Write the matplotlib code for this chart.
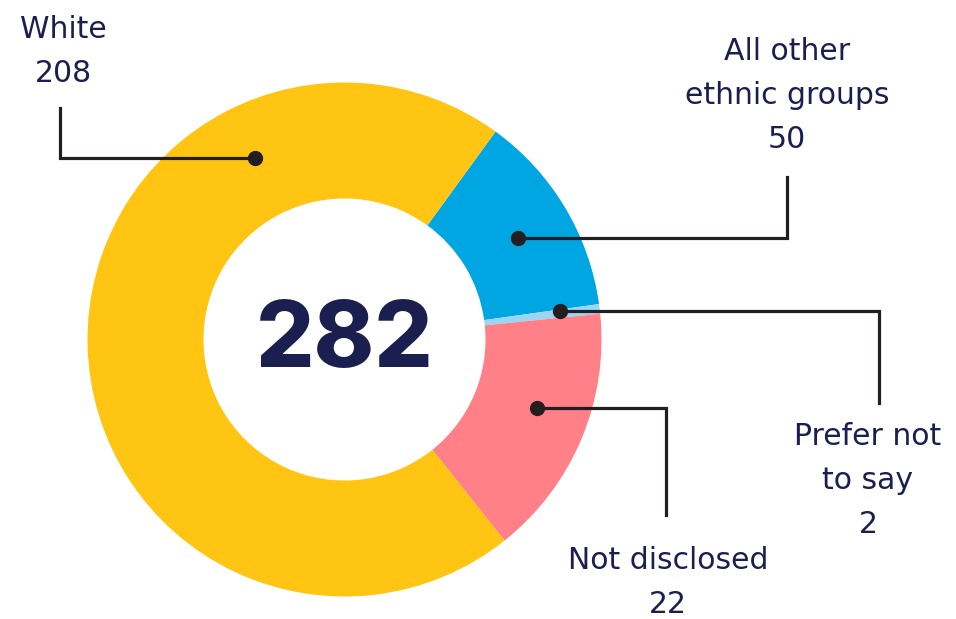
import numpy as np
import matplotlib
matplotlib.use("Agg")
import matplotlib.pyplot as plt

# --- DATA ---
categories = ["All other\nethnic groups", "Prefer not\nto say", "Not disclosed", "White"]
counts = [50, 2, 22, 208]
# arc share of each wedge as drawn in the picture (%)
arc_share = [12.8, 0.6, 15.9, 70.7]
total = 282

colors = ["#00A6E2", "#9AD6F3", "#FF8087", "#FFC512"]
navy = "#1B1F50"
ink = "#231F20"

W, H = 956, 619
fig = plt.figure(figsize=(W / 100, H / 100), dpi=100)
ax = fig.add_axes([0, 0, 1, 1])

cx, cy = 344.5, H - 339.5
R = 257
ax.pie(arc_share, colors=colors, startangle=54, counterclock=False,
       center=(cx, cy), radius=R, frame=True,
       wedgeprops=dict(width=R - 141, linewidth=0))

ax.text(cx, cy - 3, str(total), ha="center", va="center", fontsize=66,
        fontweight="heavy", family="Inter", color=navy)

# leader lines: dot -> corner -> end, label anchor (pixels from top-left)
leaders = {
    "White": [(255, 158), (60, 158), (60, 108)],
    "All other\nethnic groups": [(518, 238), (787, 238), (787, 177)],
    "Prefer not\nto say": [(560, 311), (879, 311), (879, 403)],
    "Not disclosed": [(537, 408), (666, 408), (666, 515)],
}
label_pos = {
    "White": (63, 38),
    "All other\nethnic groups": (787, 60),
    "Prefer not\nto say": (868, 445),
    "Not disclosed": (668, 569),
}

for cat, n in zip(categories, counts):
    pts = leaders[cat]
    xs = [p[0] for p in pts]
    ys = [H - p[1] for p in pts]
    ax.plot(xs, ys, color=ink, lw=2.3, solid_joinstyle="miter", zorder=3)
    ax.plot(xs[0], ys[0], "o", color=ink, ms=10, zorder=4)
    lx, ly = label_pos[cat]
    lines = cat.split("\n") + [str(n)]
    for i, s in enumerate(lines):
        ax.text(lx, H - ly - i * 44, s, ha="center", va="baseline",
                fontsize=21.5, family="DejaVu Sans", color=navy)

ax.set_xlim(0, W)
ax.set_ylim(0, H)
ax.set_aspect("equal")
ax.axis("off")

fig.savefig("out.png", dpi=100, facecolor="white")
